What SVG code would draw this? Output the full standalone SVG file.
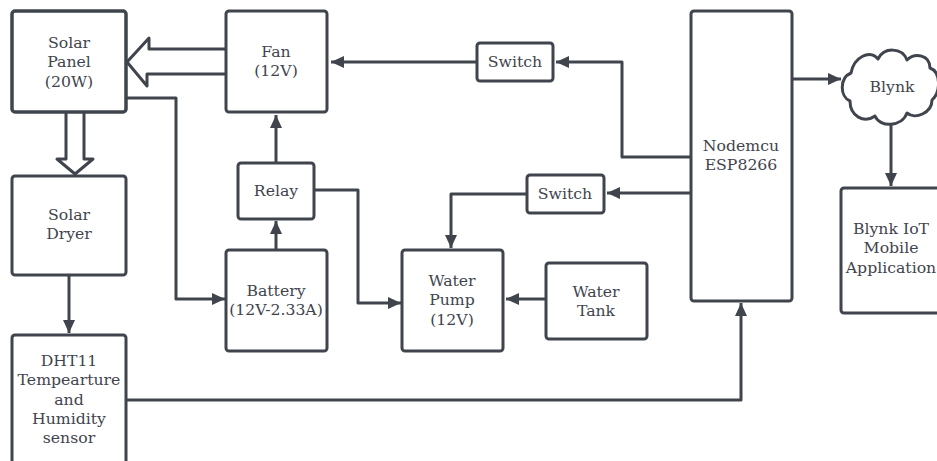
<svg xmlns="http://www.w3.org/2000/svg" width="937" height="461" viewBox="0 0 937 461">
<defs>
<marker id="ah" markerUnits="userSpaceOnUse" markerWidth="14" markerHeight="12" refX="13" refY="6" orient="auto"><path d="M0 0L13 6L0 12z" fill="#3f444d"/></marker>
</defs>
<style>
.n{fill:#fff;stroke:#3f444d;stroke-width:3;stroke-linejoin:round}
.t{font-family:"DejaVu Serif","Liberation Serif",serif;font-size:15.7px;fill:#3f444d;text-anchor:middle}
.c{fill:none;stroke:#3f444d;stroke-width:3;stroke-linejoin:round}
.a{marker-end:url(#ah)}
</style>
<rect width="937" height="461" fill="#fff"/>
<g id="connectors">
<path class="c" d="M226 49H149V38L127 62L147 86V74H226"/>
<path class="c" d="M66 113V159H57L75 174L93 159H84V113"/>
<path class="c a" d="M126 98H176V299H225"/>
<path class="c a" d="M276 163V115"/>
<path class="c a" d="M276 250V221"/>
<path class="c a" d="M314 190H358V303H401"/>
<path class="c a" d="M477 62H331"/>
<path class="c a" d="M691 157H622V62H556"/>
<path class="c a" d="M691 193H607"/>
<path class="c a" d="M527 194H451V248"/>
<path class="c a" d="M546 299H506"/>
<path class="c a" d="M69 275V333"/>
<path class="c a" d="M126 400H741V303"/>
<path class="c a" d="M792 79H841"/>
<path class="c a" d="M891 124V186"/>
</g>
<g id="solar-panel"><rect class="n" x="12" y="11" width="114" height="101" rx="3" style="stroke-width:3.5"/><text class="t" x="69" y="48">Solar</text><text class="t" x="69" y="67">Panel</text><text class="t" x="69" y="87">(20W)</text></g>
<g id="fan"><rect class="n" x="226" y="11" width="101" height="101" rx="3"/><text class="t" x="276" y="57">Fan</text><text class="t" x="276" y="76">(12V)</text></g>
<g id="relay"><rect class="n" x="238" y="163" width="76" height="56" rx="3"/><text class="t" x="276" y="196">Relay</text></g>
<g id="solar-dryer"><rect class="n" x="12" y="176" width="114" height="99" rx="3"/><text class="t" x="69" y="220">Solar</text><text class="t" x="69" y="239">Dryer</text></g>
<g id="dht11"><rect class="n" x="12" y="335" width="114" height="130" rx="3"/><text class="t" x="69" y="366">DHT11</text><text class="t" x="69" y="385">Tempearture</text><text class="t" x="69" y="405">and</text><text class="t" x="69" y="424">Humidity</text><text class="t" x="69" y="443">sensor</text></g>
<g id="battery"><rect class="n" x="226" y="250" width="101" height="101" rx="3"/><text class="t" x="276" y="296">Battery</text><text class="t" x="276" y="315">(12V-2.33A)</text></g>
<g id="water-pump"><rect class="n" x="402" y="250" width="101" height="101" rx="3"/><text class="t" x="452" y="286">Water</text><text class="t" x="452" y="305">Pump</text><text class="t" x="452" y="325">(12V)</text></g>
<g id="water-tank"><rect class="n" x="546" y="263" width="101" height="76" rx="3"/><text class="t" x="596" y="297">Water</text><text class="t" x="596" y="316">Tank</text></g>
<g id="switch-1"><rect class="n" x="477" y="43" width="76" height="38" rx="3"/><text class="t" x="515" y="67">Switch</text></g>
<g id="switch-2"><rect class="n" x="527" y="175" width="77" height="38" rx="3"/><text class="t" x="565" y="199">Switch</text></g>
<g id="nodemcu"><rect class="n" x="691" y="11" width="101" height="290" rx="3"/><text class="t" x="741" y="151">Nodemcu</text><text class="t" x="741" y="170">ESP8266</text></g>
<g id="blynk"><path class="n" d="M851 73C854 57 870 49 878 59C884 47 902 47 907 60C915 52 930 55 930 68C941 72 941 92 932 100C932 113 915 120 907 113C902 127 880 128 875 116C864 124 850 116 850 101C840 97 839 78 851 73Z"/><text class="t" x="892" y="92">Blynk</text></g>
<g id="blynk-app"><rect class="n" x="841" y="188" width="100" height="125" rx="3"/><text class="t" x="891" y="234">Blynk IoT</text><text class="t" x="891" y="253">Mobile</text><text class="t" x="891" y="273">Application</text></g>
</svg>
